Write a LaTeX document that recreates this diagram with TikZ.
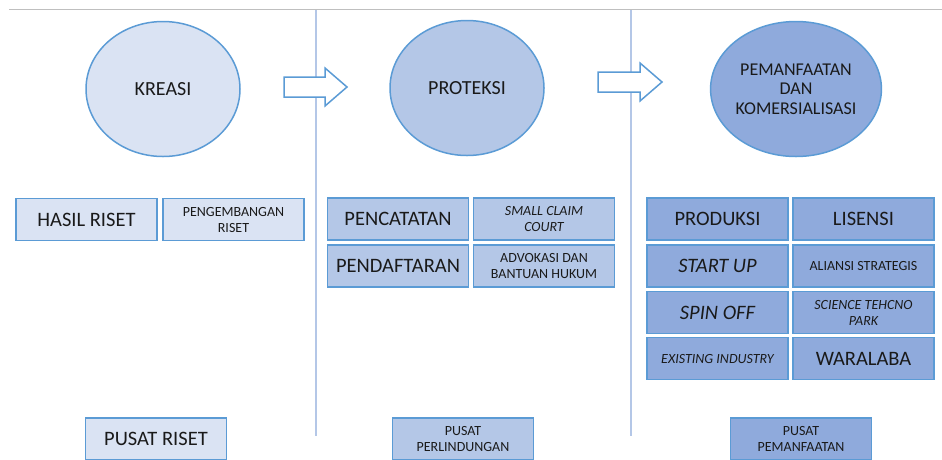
\documentclass[tikz,border=0pt]{standalone}
\usepackage{fontspec}
\setmainfont{Carlito}
\usetikzlibrary{shapes.geometric}
\definecolor{pale}{HTML}{DAE3F3}
\definecolor{mid}{HTML}{B4C7E7}
\definecolor{deep}{HTML}{8FAADC}
\definecolor{edge}{HTML}{5B9BD5}
\definecolor{ink}{HTML}{1A1A1A}
\tikzset{
  stage/.style={ellipse, draw=edge, line width=1.5pt, minimum width=154pt, minimum height=135pt,
    inner sep=0pt, align=center, text=ink, font=\fontsize{18}{19.5}\selectfont},
  cell/.style={rectangle, draw=edge, line width=1.5pt, minimum width=141pt, minimum height=42pt,
    inner sep=0pt, align=center, text=ink, font=\fontsize{20.5}{22}\selectfont},
  smalltxt/.style={font=\fontsize{14}{16}\selectfont},
  bigarrow/.style={draw=edge, line width=1.5pt, fill=white, line join=miter},
  divider/.style={draw=mid, line width=2pt}
}

\begin{document}
\begin{tikzpicture}[x=1pt, y=-1pt]
  \useasboundingbox (0,0) rectangle (942,459);
  % frame lines
  \draw[draw=black!25, line width=1pt] (9,9) -- (942,9);
  \draw[divider] (316,10) -- (316,436);
  \draw[divider] (631,10) -- (631,436);
  % three stages
  \node[stage, fill=pale, font=\fontsize{20}{22}\selectfont] (kreasi) at (163,89) {KREASI};
  \node[stage, fill=mid, font=\fontsize{20}{22}\selectfont] (proteksi) at (467,88) {PROTEKSI};
  \node[stage, fill=deep] (komersial) at (796,89) {PEMANFAATAN\\DAN\\KOMERSIALISASI};
  % block arrows between stages
  \draw[bigarrow] (284,77) -- (325,77) -- (325,68) -- (347,87) -- (325,106) -- (325,97) -- (284,97) -- cycle;
  \draw[bigarrow] (598,72) -- (640,72) -- (640,63) -- (662,82) -- (640,101) -- (640,92) -- (598,92) -- cycle;
  % kreasi boxes
  \node[cell, fill=pale] (hasil) at (86.5,219.5) {HASIL RISET};
  \node[cell, fill=pale, smalltxt] (pengembangan) at (233.5,219.5) {PENGEMBANGAN\\RISET};
  % proteksi boxes
  \node[cell, fill=mid] (pencatatan) at (398,219) {PENCATATAN};
  \node[cell, fill=mid, smalltxt] (smallclaim) at (544,219) {\itshape SMALL CLAIM\\\itshape COURT};
  \node[cell, fill=mid] (pendaftaran) at (398,266) {PENDAFTARAN};
  \node[cell, fill=mid, smalltxt] (advokasi) at (544,266) {ADVOKASI DAN\\BANTUAN HUKUM};
  % komersialisasi boxes
  \node[cell, fill=deep] (produksi) at (717.5,219) {PRODUKSI};
  \node[cell, fill=deep] (lisensi) at (863.5,219) {LISENSI};
  \node[cell, fill=deep] (startup) at (717.5,266) {\itshape START UP};
  \node[cell, fill=deep, smalltxt] (aliansi) at (863.5,266) {ALIANSI STRATEGIS};
  \node[cell, fill=deep] (spinoff) at (717.5,312.5) {\itshape SPIN OFF};
  \node[cell, fill=deep, smalltxt] (stp) at (863.5,312.5) {\itshape SCIENCE TEHCNO\\\itshape PARK};
  \node[cell, fill=deep, smalltxt] (existing) at (717.5,358.5) {\itshape EXISTING INDUSTRY};
  \node[cell, fill=deep] (waralaba) at (863.5,358.5) {WARALABA};
  % centres at the bottom
  \node[cell, fill=pale] (pusatriset) at (156,439) {PUSAT RISET};
  \node[cell, fill=mid, smalltxt] (pusatlindung) at (463,439) {PUSAT\\PERLINDUNGAN};
  \node[cell, fill=deep, smalltxt] (pusatmanfaat) at (801,439) {PUSAT\\PEMANFAATAN};
\end{tikzpicture}
\end{document}
